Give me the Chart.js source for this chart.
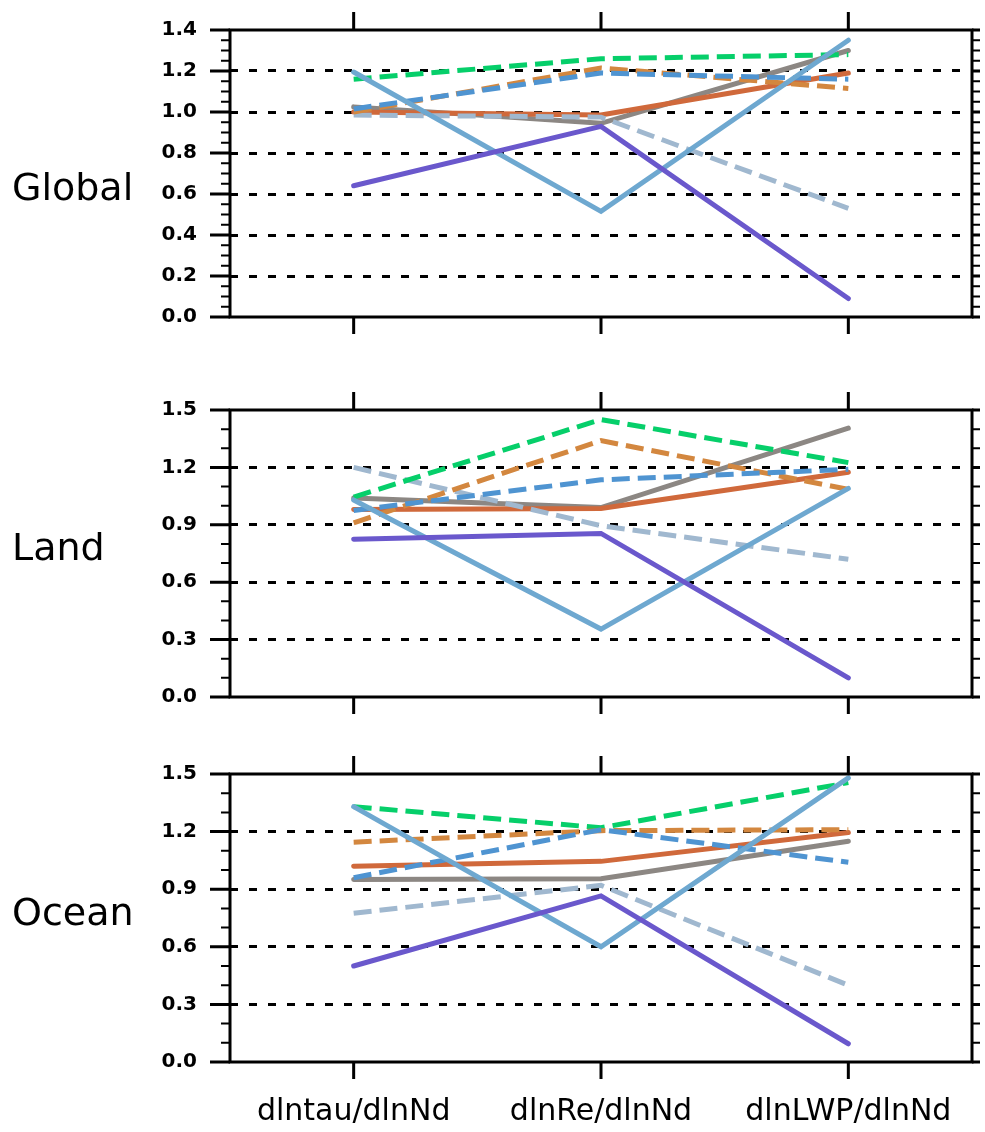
<!DOCTYPE html>
<html>
<head>
<meta charset="utf-8">
<script src="https://cdn.jsdelivr.net/npm/chart.js@4.4.1/dist/chart.umd.min.js"></script>
<style>
  body { margin: 0; background: #fff; width: 985px; height: 1132px; position: relative; overflow: hidden; }
  canvas { position: absolute; left: 0; }
</style>
</head>
<body>
<canvas id="panel0"></canvas>
<canvas id="panel1"></canvas>
<canvas id="panel2"></canvas>
<script>
const categories = ['dlntau/dlnNd', 'dlnRe/dlnNd', 'dlnLWP/dlnNd'];
const regionNames = ['Global', 'Land', 'Ocean'];
const yMax = [1.4, 1.5, 1.5];
const yStep = [0.2, 0.3, 0.3];
const yMinorStep = [0.05, 0.1, 0.1];

// each series: [Global, Land, Ocean], one value per category
const purpleSolid    = [[0.64, 0.93, 0.09],   [0.825, 0.855, 0.10],  [0.50, 0.865, 0.095]];
const lightBlueSolid = [[1.195, 0.515, 1.35], [1.03, 0.355, 1.09],   [1.33, 0.60, 1.48]];
const blueDashed     = [[1.015, 1.19, 1.16],  [0.975, 1.135, 1.19],  [0.96, 1.21, 1.04]];
const orangeDashed   = [[1.0, 1.215, 1.115],  [0.91, 1.34, 1.085],   [1.145, 1.205, 1.21]];
const greenDashed    = [[1.16, 1.26, 1.28],   [1.045, 1.45, 1.225],  [1.33, 1.22, 1.455]];
const grayBlueDashed = [[0.985, 0.975, 0.53], [1.2, 0.895, 0.72],    [0.775, 0.92, 0.40]];
const orangeSolid    = [[1.0, 0.985, 1.19],   [0.98, 0.985, 1.175],  [1.02, 1.045, 1.195]];
const graySolid      = [[1.025, 0.945, 1.30], [1.04, 0.99, 1.405],   [0.95, 0.955, 1.15]];

const seriesList = [
  { data: purpleSolid, color: '#6a58cc', dashed: false },
  { data: lightBlueSolid, color: '#6ea8d0', dashed: false },
  { data: blueDashed, color: '#4f94d1', dashed: true },
  { data: orangeDashed, color: '#d3873f', dashed: true },
  { data: greenDashed, color: '#06cf6a', dashed: true },
  { data: grayBlueDashed, color: '#a0b8cf', dashed: true },
  { data: orangeSolid, color: '#d0693b', dashed: false },
  { data: graySolid, color: '#8c8783', dashed: false }
];

// page layout of the three panels (plot area top/bottom in page pixels)
const panelTop = [0, 380, 744];
const panelHeight = [345, 345, 388];
const plotTop = [30, 410, 774];
const plotBottom = [317, 697, 1062];
const nameY = [190, 550, 915];

const frameTicks = {
  id: 'frameTicks',
  afterDraw(chart, args, opts) {
    const { ctx, chartArea: a, scales: { x, y } } = chart;
    ctx.save();
    ctx.strokeStyle = '#000';
    ctx.setLineDash([]);
    ctx.lineCap = 'butt';

    const n = Math.round(opts.max / opts.minor);
    for (let i = 0; i <= n; i++) {
      const v = i * opts.minor;
      const r = v / opts.major;
      const major = Math.abs(r - Math.round(r)) < 1e-6;
      const py = y.getPixelForValue(v);
      ctx.lineWidth = major ? 3 : 2;
      ctx.beginPath();
      ctx.moveTo(a.left - (major ? 20 : 9), py);
      ctx.lineTo(a.left, py);
      ctx.moveTo(a.right, py);
      ctx.lineTo(a.right + 8, py);
      ctx.stroke();
    }

    ctx.lineWidth = 3;
    categories.forEach((c, i) => {
      const px = x.getPixelForValue(i);
      ctx.beginPath();
      ctx.moveTo(px, a.top - 18);
      ctx.lineTo(px, a.top);
      ctx.moveTo(px, a.bottom);
      ctx.lineTo(px, a.bottom + 17);
      ctx.stroke();
    });

    ctx.strokeRect(a.left, a.top, a.right - a.left, a.bottom - a.top);

    ctx.fillStyle = '#000';
    ctx.font = '38px "DejaVu Sans"';
    ctx.textBaseline = 'middle';
    ctx.textAlign = 'left';
    ctx.fillText(opts.name, 12, opts.nameY);
    ctx.restore();
  }
};

function drawPanel(p) {
  const canvas = document.getElementById('panel' + p);
  canvas.width = 985;
  canvas.height = panelHeight[p];
  canvas.style.top = panelTop[p] + 'px';
  const max = yMax[p];
  const last = p === 2;
  const wantTop = plotTop[p] - panelTop[p];
  const wantBottom = plotBottom[p] - panelTop[p];
  let xHeight = panelHeight[p] - wantBottom;

  const chart = new Chart(canvas, {
    type: 'line',
    data: {
      labels: categories,
      datasets: seriesList.map(s => ({
        data: s.data[p],
        borderColor: s.color,
        borderWidth: 5,
        borderDash: s.dashed ? [18, 8] : [],
        borderCapStyle: s.dashed ? 'butt' : 'round',
        pointRadius: 0,
        pointHoverRadius: 0,
        tension: 0,
        fill: false
      }))
    },
    options: {
      responsive: false,
      animation: false,
      layout: { autoPadding: false, padding: { top: wantTop, right: 13, left: 0, bottom: 0 } },
      plugins: {
        legend: { display: false },
        tooltip: { enabled: false },
        frameTicks: { max, major: yStep[p], minor: yMinorStep[p], name: regionNames[p], nameY: nameY[p] - panelTop[p] }
      },
      scales: {
        x: {
          type: 'category',
          offset: true,
          grid: { display: false, drawTicks: false },
          border: { display: false },
          ticks: {
            display: last,
            color: '#000',
            padding: 32,
            maxRotation: 0,
            font: { family: 'DejaVu Sans', size: 30 }
          },
          afterFit: scale => {
            scale.height = xHeight;
            scale.paddingLeft = scale.paddingRight = 0;
          }
        },
        y: {
          min: 0,
          max,
          z: 1,
          grid: {
            drawTicks: false,
            lineWidth: 3,
            color: c => (c.tick && c.tick.value > 1e-6 && c.tick.value < max - 1e-6) ? '#000' : 'rgba(0,0,0,0)'
          },
          border: { display: false, dash: [8, 11] },
          ticks: {
            stepSize: yStep[p],
            color: '#000',
            padding: 33,
            font: { family: 'DejaVu Sans', size: 20, weight: 'bold' },
            callback: v => Number(v).toFixed(1)
          },
          afterFit: scale => {
            scale.width = 230;
            scale.paddingTop = scale.paddingBottom = 0;
          }
        }
      }
    },
    plugins: [frameTicks]
  });

  // nudge the layout so the plot box lands where the reference has it
  const a = chart.chartArea;
  const dTop = a.top - wantTop;
  const dBottom = a.bottom - wantBottom;
  if (Math.abs(dTop) > 0.5 || Math.abs(dBottom) > 0.5) {
    chart.options.layout.padding.top -= dTop;
    xHeight += dBottom;
    chart.update();
  }
}

[0, 1, 2].forEach(drawPanel);
</script>
</body>
</html>
